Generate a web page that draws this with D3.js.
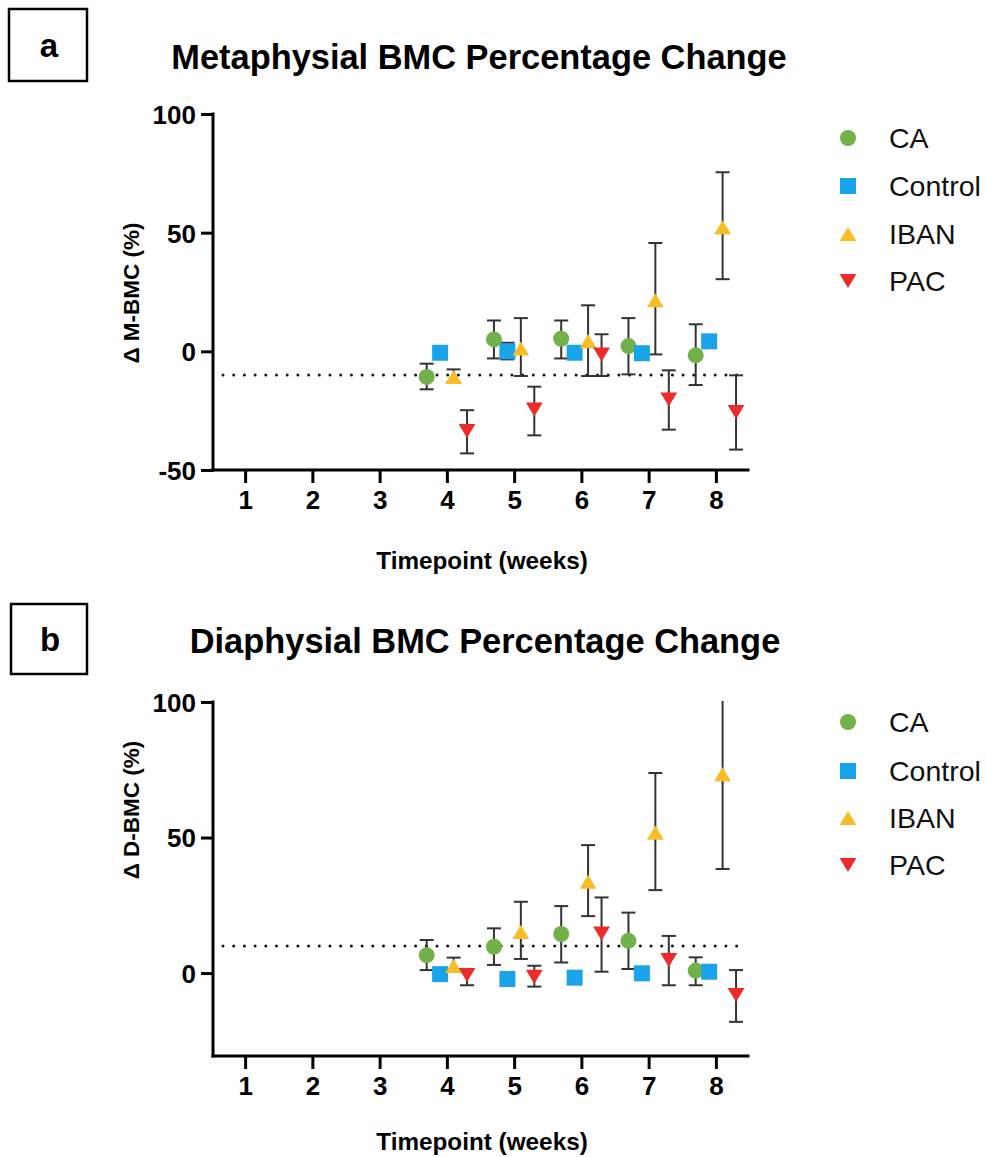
<!DOCTYPE html>
<html>
<head>
<meta charset="utf-8">
<script src="https://cdn.jsdelivr.net/npm/d3@7"></script>
<style>
  html, body { margin: 0; padding: 0; background: #fff; }
  svg { display: block; }
  text { font-family: "Liberation Sans", Arial, sans-serif; }
</style>
</head>
<body>
<svg id="chart" width="987" height="1157"></svg>
<script>
// ---------------- DATA ----------------
const weeks = [4, 5, 6, 7, 8];
const xTicks = [1, 2, 3, 4, 5, 6, 7, 8];
const groups = ["CA", "Control", "IBAN", "PAC"];
const groupOffsets = [-0.3, -0.1, 0.1, 0.3];
const colors = ["#72b04a", "#19a3e8", "#f6bd27", "#ee2a2a"];
const symbols = ["circle", "square", "triangleUp", "triangleDown"];

// Panel a: Metaphysial BMC (%)
const aCA_mean = [-10.8, 5.0, 5.3, 2.2, -1.7];
const aCA_lo   = [-16.0, -3.0, -3.0, -9.7, -14.2];
const aCA_hi   = [-5.2, 13.0, 13.0, 14.0, 11.4];
const aControl_mean = [-0.6, 0.0, -0.6, -0.8, 4.2];
const aControl_lo   = [-2.0, -3.4, -2.0, -2.2, 2.8];
const aControl_hi   = [0.8, 3.6, 0.8, 0.6, 5.6];
const aIBAN_mean = [-10.8, 1.2, 4.3, 21.5, 52.3];
const aIBAN_lo   = [-13.0, -10.4, -10.4, -1.3, 30.4];
const aIBAN_hi   = [-7.6, 14.0, 19.4, 45.6, 75.5];
const aPAC_mean = [-33.6, -24.5, -1.3, -20.3, -25.6];
const aPAC_lo   = [-43.0, -35.4, -10.4, -33.0, -41.4];
const aPAC_hi   = [-24.8, -14.9, 7.2, -8.0, -10.1];
const aYTicks = [-50, 0, 50, 100];
const aRefLine = -10;

// Panel b: Diaphysial BMC (%)
const bCA_mean = [6.6, 9.7, 14.4, 11.9, 0.9];
const bCA_lo   = [1.1, 3.0, 3.9, 1.5, -4.5];
const bCA_hi   = [12.2, 16.5, 24.7, 22.3, 5.8];
const bControl_mean = [-0.4, -2.2, -1.7, -0.1, 0.5];
const bControl_lo   = [-1.6, -3.4, -2.9, -1.3, -0.7];
const bControl_hi   = [0.8, -1.0, -0.5, 1.1, 1.7];
const bIBAN_mean = [2.6, 15.2, 33.7, 51.8, 73.4];
const bIBAN_lo   = [0.5, 5.2, 21.0, 30.6, 38.4];
const bIBAN_hi   = [5.7, 26.3, 47.2, 73.8, 108.0];
const bPAC_mean = [-0.7, -1.4, 14.6, 4.8, -8.1];
const bPAC_lo   = [-4.5, -5.0, 0.5, -4.5, -18.0];
const bPAC_hi   = [1.5, 2.7, 27.9, 13.7, 1.1];
const bYTicks = [0, 50, 100];
const bRefLine = 10;

// ---------------- BUILD ----------------
const svg = d3.select("#chart");
const FONT = '"Liberation Sans", Arial, sans-serif';

function series(mean, lo, hi) {
  return weeks.map((w, i) => ({ week: w, mean: mean[i], lo: lo[i], hi: hi[i] }));
}

const panels = [
  {
    id: "a", letter: "a", title: "Metaphysial BMC Percentage Change", ylab: "\u0394 M-BMC (%)",
    box: [9, 9, 78, 72], titleX: 479, titleY: 69,
    yDomain: [-50, 100], yRange: [470, 114], yTicks: aYTicks, ref: aRefLine,
    ylabX: 131, ylabY: 293, xlabY: 569, legendY: [138, 186, 234, 281],
    data: [series(aCA_mean, aCA_lo, aCA_hi), series(aControl_mean, aControl_lo, aControl_hi),
           series(aIBAN_mean, aIBAN_lo, aIBAN_hi), series(aPAC_mean, aPAC_lo, aPAC_hi)]
  },
  {
    id: "b", letter: "b", title: "Diaphysial BMC Percentage Change", ylab: "\u0394 D-BMC (%)",
    box: [11, 604, 76, 70], titleX: 485, titleY: 653,
    yDomain: [-30.6, 100], yRange: [1056, 702], yTicks: bYTicks, ref: bRefLine,
    ylabX: 131, ylabY: 810, xlabY: 1150, legendY: [722, 771, 818, 865],
    data: [series(bCA_mean, bCA_lo, bCA_hi), series(bControl_mean, bControl_lo, bControl_hi),
           series(bIBAN_mean, bIBAN_lo, bIBAN_hi), series(bPAC_mean, bPAC_lo, bPAC_hi)]
  }
];

function markerPath(type, s) {
  const h = s / 2;
  if (type === "circle") return d3.symbol(d3.symbolCircle, Math.PI * h * h)();
  if (type === "square") return `M${-h},${-h}H${h}V${h}H${-h}Z`;
  const th = s * 0.88, tw = s * 1.05;
  if (type === "triangleUp") return `M0,${-th / 2}L${tw / 2},${th / 2}L${-tw / 2},${th / 2}Z`;
  return `M0,${th / 2}L${tw / 2},${-th / 2}L${-tw / 2},${-th / 2}Z`;
}

panels.forEach(p => {
  const g = svg.append("g");
  const x = d3.scaleLinear().domain([0.5, 8.5]).range([211.5, 749.5]);
  const y = d3.scaleLinear().domain(p.yDomain).range(p.yRange);
  const top = y(100);

  // letter box
  g.append("rect").attr("x", p.box[0]).attr("y", p.box[1]).attr("width", p.box[2]).attr("height", p.box[3])
    .attr("fill", "none").attr("stroke", "#000").attr("stroke-width", 2.5);
  g.append("text").attr("x", p.box[0] + p.box[2] / 2 + 1).attr("y", p.box[1] + p.box[3] / 2 + 12)
    .attr("text-anchor", "middle").attr("font-size", 33).attr("font-weight", "bold").text(p.letter);

  // title
  g.append("text").attr("x", p.titleX).attr("y", p.titleY).attr("text-anchor", "middle")
    .attr("font-size", 34.4).attr("font-weight", "bold").text(p.title);

  // axes
  const yAxis = d3.axisLeft(y).tickValues(p.yTicks).tickSize(12).tickPadding(5).tickFormat(d => String(d));
  const yg = g.append("g").attr("transform", `translate(${x(0.5) + 1.5},0)`).call(yAxis);
  yg.select(".domain").remove();
  yg.append("line").attr("x1", 0).attr("x2", 0).attr("y1", top - 1.5).attr("y2", p.yRange[0] + 1.5)
    .attr("stroke", "#000").attr("stroke-width", 3);
  yg.selectAll(".tick line").attr("stroke", "#000").attr("stroke-width", 3);
  yg.selectAll(".tick text").attr("font-size", 26).attr("font-weight", "bold").attr("fill", "#000")
    .attr("font-family", FONT).attr("dy", "0.36em");

  const xAxis = d3.axisBottom(x).tickValues(xTicks).tickSize(13).tickPadding(8).tickFormat(d => String(d));
  const xg = g.append("g").attr("transform", `translate(0,${p.yRange[0]})`).call(xAxis);
  xg.select(".domain").remove();
  xg.append("line").attr("x1", x(0.5)).attr("x2", x(8.5)).attr("y1", 0).attr("y2", 0)
    .attr("stroke", "#000").attr("stroke-width", 3);
  xg.selectAll(".tick line").attr("stroke", "#000").attr("stroke-width", 3);
  xg.selectAll(".tick text").attr("font-size", 26).attr("font-weight", "bold").attr("fill", "#000")
    .attr("font-family", FONT);

  // axis labels
  g.append("text").attr("transform", `translate(${p.ylabX},${p.ylabY}) rotate(-90)`)
    .attr("text-anchor", "middle").attr("dy", "0.35em").attr("font-size", 22.5).attr("font-weight", "bold")
    .text(p.ylab);
  g.append("text").attr("x", 482).attr("y", p.xlabY).attr("text-anchor", "middle")
    .attr("font-size", 24.3).attr("font-weight", "bold").text("Timepoint (weeks)");

  // reference dotted line
  g.append("line").attr("x1", 223).attr("x2", 737).attr("y1", y(p.ref)).attr("y2", y(p.ref))
    .attr("stroke", "#111").attr("stroke-width", 3).attr("stroke-dasharray", "0 10.7")
    .attr("stroke-linecap", "round");

  // clip
  const clipId = "clip-" + p.id;
  svg.append("clipPath").attr("id", clipId).append("rect")
    .attr("x", x(0.5)).attr("y", top - 1).attr("width", x(8.5) - x(0.5) + 20).attr("height", p.yRange[0] - top + 1);

  const plot = g.append("g").attr("clip-path", `url(#${clipId})`);

  // error bars
  p.data.forEach((ser, gi) => {
    const eg = plot.append("g").attr("stroke", "#333").attr("stroke-width", 2).attr("fill", "none");
    ser.forEach(d => {
      const cx = x(d.week + groupOffsets[gi]);
      eg.append("line").attr("x1", cx).attr("x2", cx).attr("y1", y(d.lo)).attr("y2", y(d.hi));
      [d.lo, d.hi].forEach(v => {
        eg.append("line").attr("x1", cx - 7).attr("x2", cx + 7).attr("y1", y(v)).attr("y2", y(v));
      });
    });
  });
  // markers
  p.data.forEach((ser, gi) => {
    plot.append("g").selectAll("path").data(ser).join("path")
      .attr("transform", d => `translate(${x(d.week + groupOffsets[gi])},${y(d.mean)})`)
      .attr("d", markerPath(symbols[gi], 16))
      .attr("fill", colors[gi]);
  });

  // legend
  const lg = g.append("g");
  groups.forEach((name, gi) => {
    lg.append("path").attr("transform", `translate(848,${p.legendY[gi]})`)
      .attr("d", markerPath(symbols[gi], 16)).attr("fill", colors[gi]);
    lg.append("text").attr("x", 889).attr("y", p.legendY[gi]).attr("dy", "0.36em")
      .attr("font-size", 28.5).attr("fill", "#111").text(name);
  });
});
</script>
</body>
</html>
